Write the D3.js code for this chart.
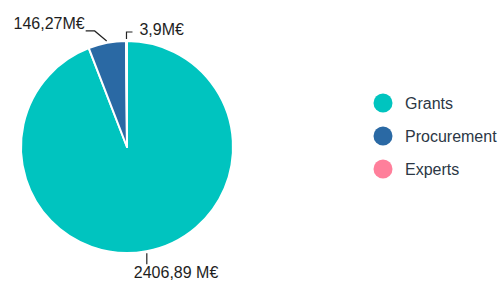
<!DOCTYPE html>
<html>
<head>
<meta charset="utf-8">
<script src="https://cdn.jsdelivr.net/npm/d3@7"></script>
<style>
  body { margin: 0; background: #fff; }
  svg { font-family: "Liberation Sans", Arial, sans-serif; }
</style>
</head>
<body>
<div id="chart"></div>
<script>
const categories = ["Grants", "Procurement", "Experts"];
const values = [2406.89, 146.27, 3.9];
const labels = ["2406,89 M€", "146,27M€", "3,9M€"];
const colors = ["#00c4bf", "#2a69a4", "#ff7f9b"];

const width = 502, height = 282;
const cx = 127, cy = 147, radius = 106;

// leader line shape per slice: radial/elbow offset, horizontal run, text offset
const leaders = [
  {ex: 0, ey: 11, hx: 0, tx: -13, ty: 14, anchor: "start"},
  {ex: -12, ey: -10, hx: -9, tx: -1, ty: -2, anchor: "end"},
  {ex: 0, ey: -7, hx: 6, tx: 7, ty: 3, anchor: "start"}
];

const data = categories.map((c, i) => ({name: c, value: values[i], label: labels[i]}));

const svg = d3.select("#chart")
	.append("svg")
	.attr("width", width)
	.attr("height", height);

const g = svg.append("g")
	.attr("transform", "translate(" + cx + "," + cy + ")");

const color = d3.scaleOrdinal().domain(categories).range(colors);

const pie = d3.pie().sort(null).value((d) => d.value);
const arc = d3.arc().innerRadius(0).outerRadius(radius);

const arcs = pie(data);

g.selectAll("path.slice")
	.data(arcs)
	.enter().append("path")
	.attr("class", "slice")
	.attr("d", arc)
	.attr("fill", (d) => color(d.data.name))
	.attr("stroke", "#fff")
	.attr("stroke-width", 2)
	.attr("stroke-linejoin", "round");

// labels with leader lines
arcs.forEach((d, i) => {
	const a = (d.startAngle + d.endAngle) / 2;
	const L = leaders[i];
	const x0 = Math.sin(a) * (radius + 2);
	const y0 = -Math.cos(a) * (radius + 2);
	const x1 = x0 + L.ex, y1 = y0 + L.ey;
	const x2 = x1 + L.hx, y2 = y1;
	g.append("polyline")
		.attr("points", [[x0, y0], [x1, y1], [x2, y2]].map((p) => p.join(",")).join(" "))
		.attr("fill", "none")
		.attr("stroke", "#222")
		.attr("stroke-width", 1.2);
	g.append("text")
		.attr("x", x2 + L.tx)
		.attr("y", y2 + L.ty)
		.attr("text-anchor", L.anchor)
		.attr("font-size", 16)
		.attr("fill", "#1e1e1e")
		.text(d.data.label);
});

// legend
const legend = svg.append("g")
	.attr("transform", "translate(383, 103)");

const ly = d3.scalePoint().domain(categories).range([0, 66]);

const item = legend.selectAll("g.item")
	.data(categories)
	.enter().append("g")
	.attr("class", "item")
	.attr("transform", (d) => "translate(0," + ly(d) + ")");

item.append("circle")
	.attr("r", 9.5)
	.attr("fill", (d) => color(d));

item.append("text")
	.attr("x", 22)
	.attr("y", 6)
	.attr("font-size", 16)
	.attr("fill", "#2b3745")
	.text((d) => d);
</script>
</body>
</html>
